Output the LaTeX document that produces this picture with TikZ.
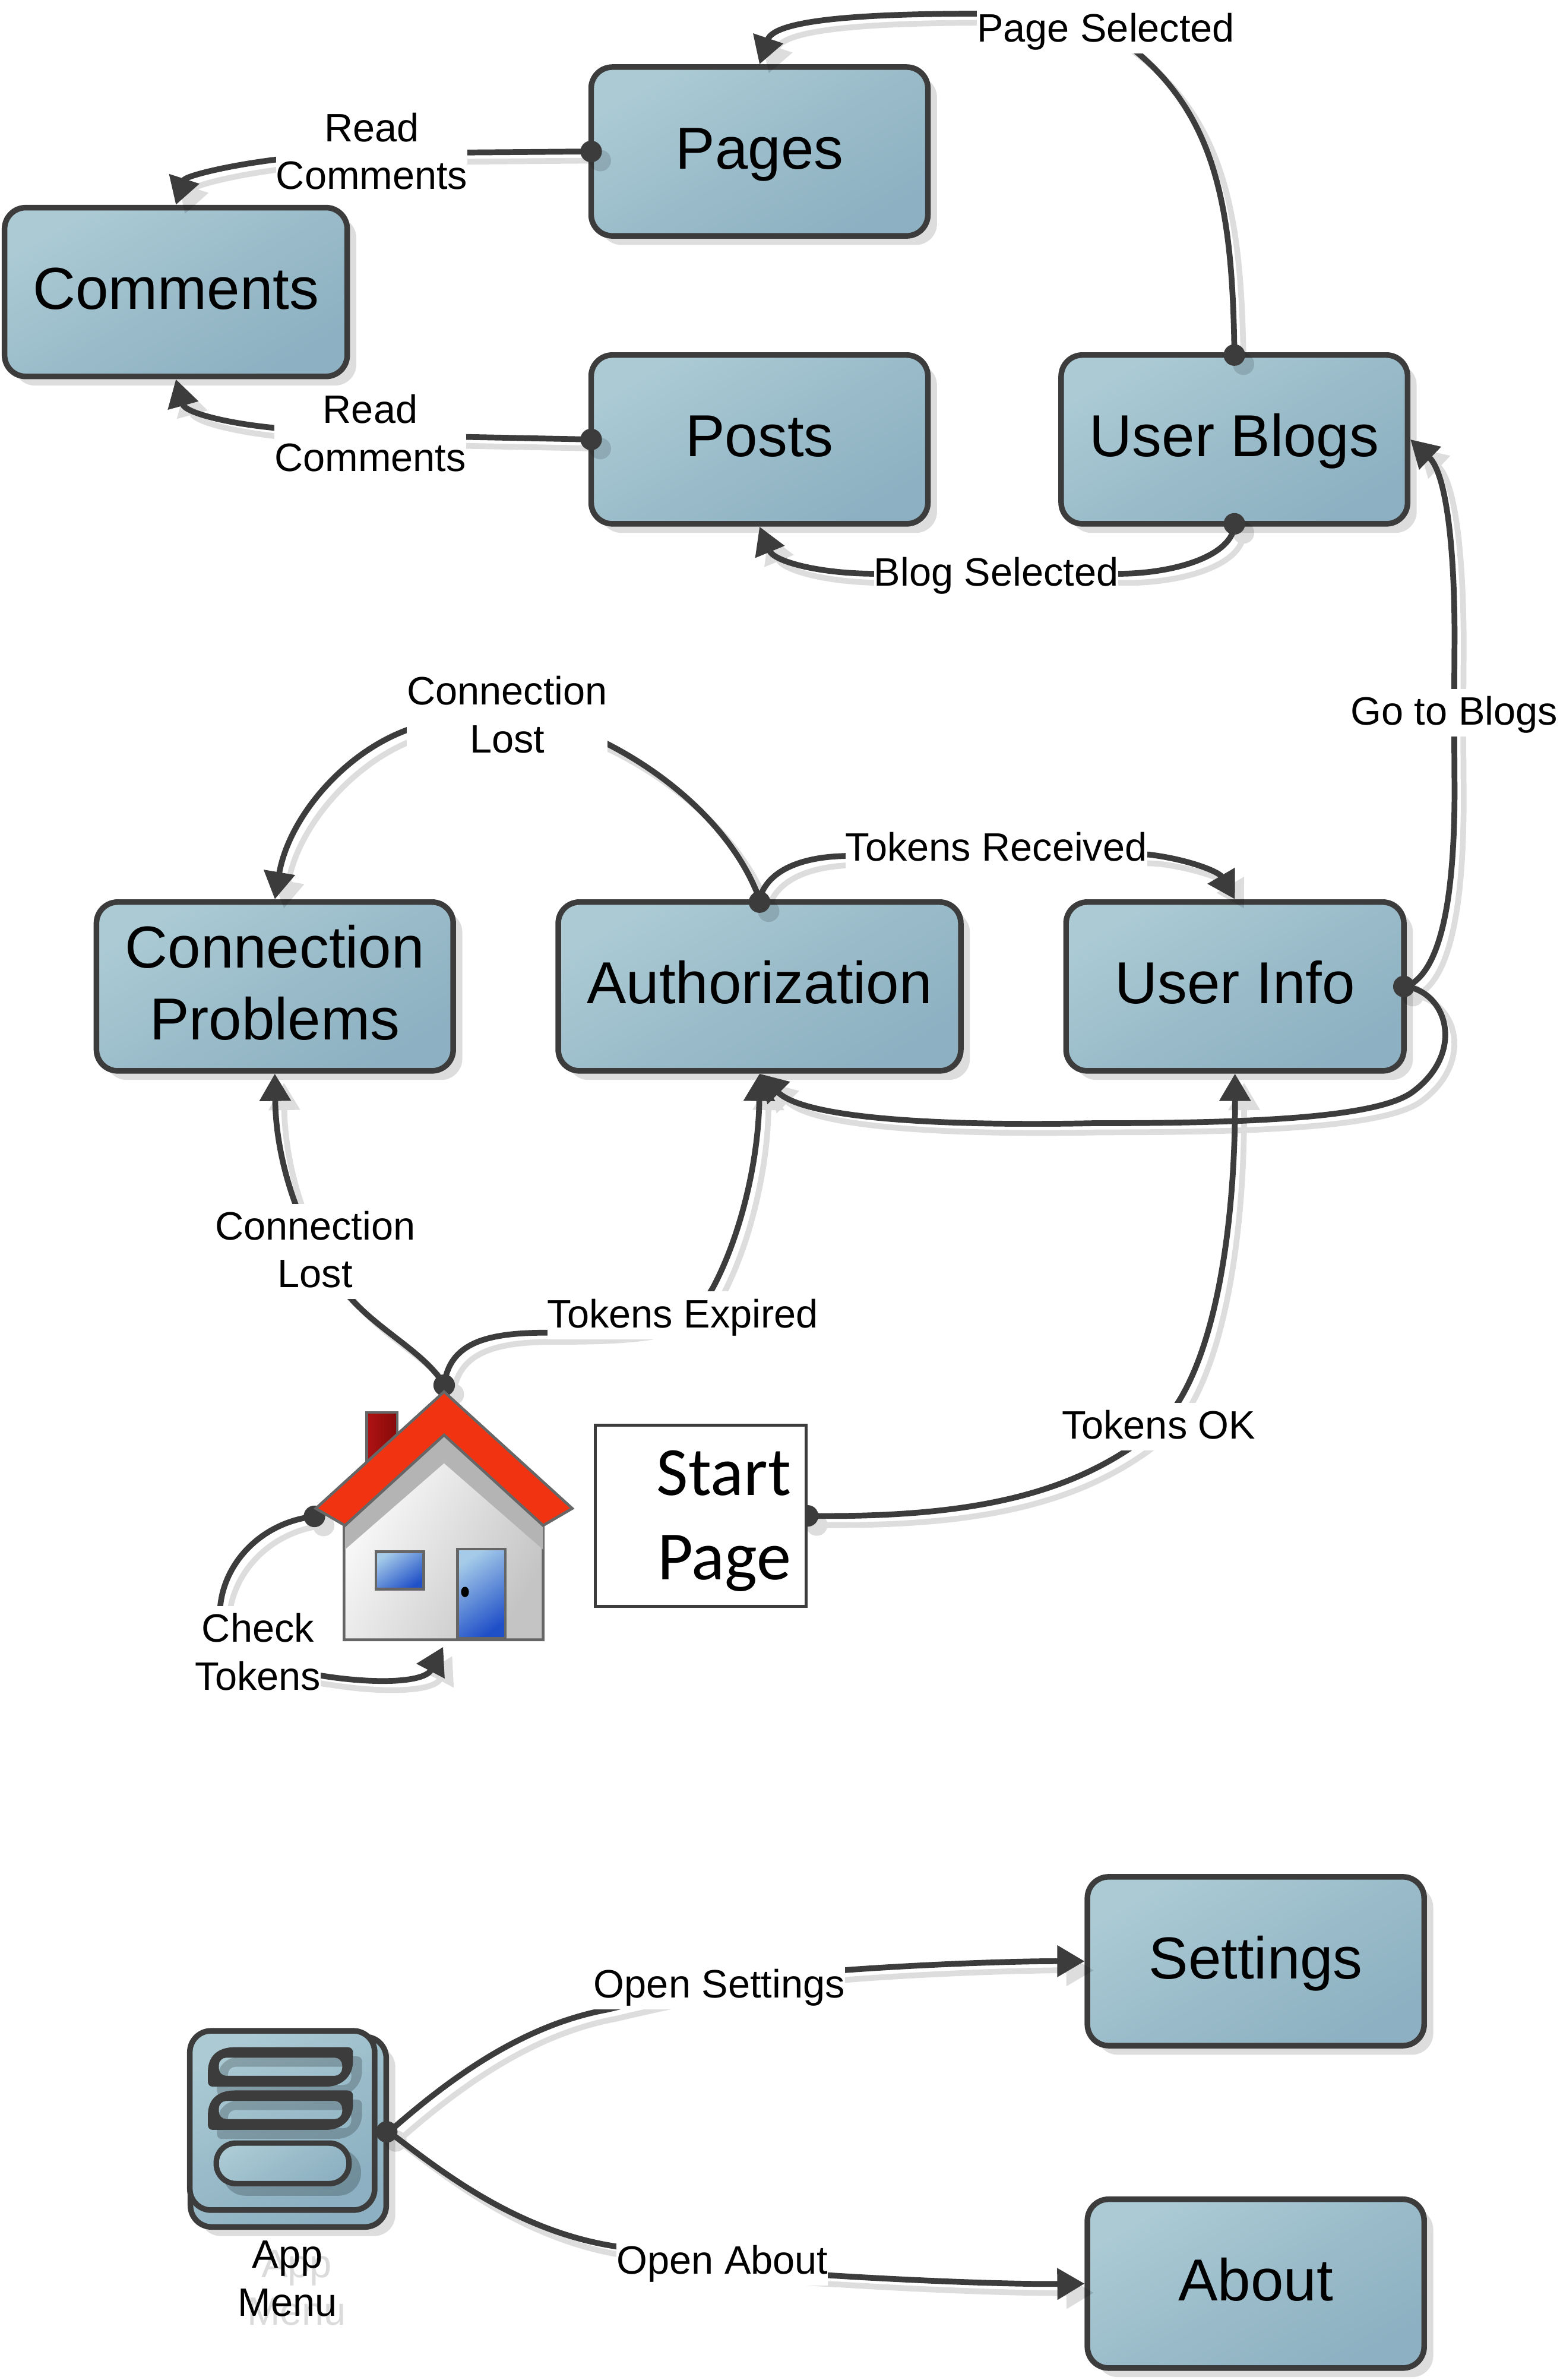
\documentclass[tikz,border=0pt]{standalone}
\usepackage{fontspec}
\setmainfont{Liberation Sans}
\newfontfamily\carl{Carlito}
\usetikzlibrary{arrows.meta,shadows,calc}
\pgfdeclarelayer{boxes}
\pgfdeclarelayer{links}
\pgfsetlayers{boxes,links,main}
\definecolor{ink}{HTML}{3C3C3C}
\definecolor{tealA}{HTML}{ABCAD4}
\definecolor{tealB}{HTML}{8DB1C2}
\definecolor{roofred}{HTML}{F23312}
\definecolor{outl}{HTML}{666666}
\definecolor{glassA}{HTML}{A5CBE9}
\definecolor{glassB}{HTML}{2050C8}
\definecolor{chimA}{HTML}{B01212}
\definecolor{chimB}{HTML}{860A0A}
\definecolor{wallA}{HTML}{FFFFFF}
\definecolor{wallB}{HTML}{C4C4C4}
\definecolor{band}{HTML}{B4B4B4}
\newcommand{\bst}{\rule[-12.1pt]{0pt}{47pt}}
\newcommand{\lst}{\rule[-7.6pt]{0pt}{31.4pt}}
\def\lc{ink}
\tikzset{
  teal/.style={top color=tealA,bottom color=tealB,middle color=tealB!55!tealA,shading angle=30},
  box/.style={draw=ink,line width=3.7pt,rounded corners=14pt,inner sep=0pt,align=center,teal,
     minimum height=111.2pt,
     font=\fontsize{39}{47}\selectfont,
     drop shadow={shadow xshift=6pt,shadow yshift=-6pt,fill=black,opacity=.135}},
  lbl/.style={fill=white,inner sep=0pt,align=center,font=\fontsize{26.1}{31.4}\selectfont},
  conn/.style={draw=\lc,line width=3.8pt},
  arr/.style={-{Triangle[length=18pt,width=20pt]}},
  housel/.style={draw=outl,line width=1.8pt,line join=miter},
  glass/.style={top color=glassA,bottom color=glassB,shading angle=35},
}
\newcommand{\dotat}[2]{\fill[\lc] ($(#1)+(#2)$) circle (7.1pt);}
\newcommand{\allconn}{%
  % Page Selected
  \draw[conn,arr] (ub.north) .. controls (812,130) and (800,65) .. (lPS.center) .. controls (695,9) and (670,9) .. (645,9) .. controls (560,9) and (510,14) .. (pages.north);
  \dotat{ub.north}{0,1.85}
  % Read Comments (Pages)
  \draw[conn,arr] (pages.west) -- (lRC.center) .. controls (215,101) and (200,103) .. (183,105) .. controls (150,109) and (122,116) .. (comments.north);
  \dotat{pages.west}{1.85,0}
  % Read Comments (Posts)
  \draw[conn,arr] (posts.west) -- (lRD.center) .. controls (215,286) and (200,284) .. (182,282) .. controls (150,279) and (122,272) .. (comments.south);
  \dotat{posts.west}{1.85,0}
  % Blog Selected
  \draw[conn,arr] (ub.south) .. controls (810,368) and (770,378) .. (737,378) -- (lBS.center) -- (577,378) .. controls (540,378) and (510,370) .. (posts.south);
  \dotat{ub.south}{0,-1.85}
  % Go to Blogs
  \draw[conn,arr] (ui.east) .. controls (950,640) and (958.5,590) .. (958.5,520) -- (lGB.center) -- (958.5,420) .. controls (958.5,360) and (953,312) .. (ub.east);
  % User Info to Authorization
  \draw[conn,arr] (ui.east) .. controls (955,655) and (965,695) .. (930,720) .. controls (905,737) and (820,740) .. (720,740) .. controls (620,742) and (530,737) .. (auth.south);
  \dotat{ui.east}{-1.85,0}
  % Connection Lost (top)
  \draw[conn,arr] (auth.north) .. controls (485,550) and (445,513) .. (400,490) .. controls (360,470) and (310,465) .. (268,481) .. controls (225,497) and (190,540) .. (cp.north);
  % Tokens Received
  \draw[conn,arr] (auth.north) .. controls (505,575) and (525,565) .. (555,564) -- (lTR.center) -- (757,563) .. controls (782,566) and (803,574) .. (ui.north);
  \dotat{auth.north}{0,1.85}
  % Connection Lost (bottom)
  \draw[conn,arr] (houseTop) .. controls (280,890) and (245,875) .. (225,848) .. controls (205,825) and (182,775) .. (cp.south);
  % Tokens Expired
  \draw[conn,arr] (houseTop) .. controls (296,885) and (320,878) .. (360,878) .. controls (420,878) and (455,875) .. (470,848) .. controls (490,810) and (500,760) .. (auth.south);
  \dotat{houseTop}{0,0}
  % Tokens OK
  \draw[conn,arr] (sp.east) .. controls (640,1000) and (710,985) .. (lTO.center) .. controls (800,905) and (814,810) .. (ui.south);
  \dotat{sp.east}{0,0}
  % Check Tokens
  \draw[conn,arr] (houseLeft) .. controls (172,1003) and (147,1030) .. (145,1060) .. controls (143,1085) and (180,1100) .. (212,1104) .. controls (250,1110) and (280,1108) .. (houseBottom);
  \dotat{houseLeft}{0,0}
  % Open Settings
  \draw[conn,arr] (mback.east) .. controls (290,1375) and (340,1335) .. (400,1324) .. controls (450,1312) and (500,1303) .. (556,1298) .. controls (610,1294) and (670,1292) .. (st.west);
  % Open About
  \draw[conn,arr] (mback.east) .. controls (290,1430) and (340,1470) .. (406,1480) .. controls (450,1492) and (500,1497) .. (546,1499) .. controls (610,1503) and (670,1505) .. (ab.west);
  \dotat{mback.east}{-1.5,0}
}
\newcommand{\menubar}{%
  (155,1348.7) -- (229,1348.7) .. controls (231.5,1348.7) and (232.6,1350.5) .. (232.6,1352) -- (232.6,1358)
  .. controls (232.6,1368) and (225,1374.7) .. (215,1374.7) -- (140,1374.7) .. controls (138,1374.7) and (137,1373) .. (137,1371.5)
  -- (137,1365) .. controls (137,1355) and (143,1348.7) .. (155,1348.7) -- cycle
  [rounded corners=5pt] (144.2,1355.6) rectangle (225.5,1367.6)}
\begin{document}
\begin{tikzpicture}[x=1pt,y=-1pt]
\useasboundingbox (0,0) rectangle (1027.6,1568);
% ---- boxes
\begin{pgfonlayer}{boxes}
\node[box,minimum width=221.9pt] (pages) at (500.5,99.8) {\bst Pages};
\node[box,minimum width=221.9pt] (posts) at (500.5,289.5) {\bst Posts};
\node[box,minimum width=225.8pt] (comments) at (115.9,192.4) {\bst Comments};
\node[box,minimum width=228.3pt] (ub) at (813.4,289.5) {\bst User Blogs};
\node[box,minimum width=235.1pt] (cp) at (181.1,649.9) {\bst Connection\\\bst Problems};
\node[box,minimum width=265.3pt] (auth) at (500.5,649.9) {\bst Authorization};
\node[box,minimum width=222.6pt] (ui) at (813.8,649.9) {\bst User Info};
\node[box,minimum width=221.9pt] (st) at (827.5,1292.1) {\bst Settings};
\node[box,minimum width=221.9pt] (ab) at (827.5,1504.5) {\bst About};
% app menu icon
\node[box,minimum width=129pt,minimum height=125.3pt] (mback) at (190,1404.5) {};
\node[draw=ink,line width=3.7pt,rounded corners=14pt,inner sep=0pt,teal,minimum width=121.8pt,minimum height=118.1pt] (mfront) at (186,1397) {};
\begin{scope}[shift={(6,6)}]
  \fill[black,opacity=.2,even odd rule] \menubar;
  \begin{scope}[shift={(0,28.5)}]\fill[black,opacity=.2,even odd rule] \menubar;\end{scope}
  \fill[black,opacity=.2,rounded corners=15pt] (140.7,1409.9) rectangle (231.9,1440.6);
\end{scope}
\fill[ink,even odd rule] \menubar;
\begin{scope}[shift={(0,28.5)}]\fill[ink,even odd rule] \menubar;\end{scope}
\draw[draw=ink,line width=3.6pt,rounded corners=13pt,teal] (142.5,1411.9) rectangle (230,1438.6);
\end{pgfonlayer}
% ---- labels
\node[lbl] (lPS) at (728.7,19.5) {\lst Page Selected};
\node[lbl] (lRC) at (245,101) {\lst Read\\\lst Comments};
\node[lbl] (lRD) at (244,286.6) {\lst Read\\\lst Comments};
\node[lbl] (lBS) at (656.5,378) {\lst Blog Selected};
\node[lbl] (lGB) at (958.2,469.5) {\lst Go to Blogs};
\node[lbl] (lCA) at (334.2,472) {\lst Connection\\\lst Lost};
\node[lbl] (lTR) at (656.5,559) {\lst Tokens Received};
\node[lbl] (lCB) at (207.7,824.5) {\lst Connection\\\lst Lost};
\node[lbl] (lTE) at (450,866.6) {\lst Tokens Expired};
\node[lbl] (lTO) at (763.5,940) {\lst Tokens OK};
\node[lbl] (lCT) at (170,1089.5) {\lst Check\\\lst Tokens};
\node[lbl] (lOS) at (474,1308) {\lst Open Settings};
\node[lbl] (lOA) at (476,1490) {\lst Open About};
\node[lbl,fill=none,text=black!14] (lAMs) at (195.5,1508) {\lst App\\\lst Menu};
\node[lbl,fill=none] (lAM) at (189.5,1502) {\lst App\\\lst Menu};
% ---- start page box
\node[draw=ink,line width=2pt,fill=white,inner sep=10pt,text width=119pt,minimum height=115.5pt,align=right,font=\carl\fontsize{45.5}{55.5}\selectfont] (sp) at (461.7,998.7) {\rule{0pt}{36pt}Start\\Page};
% ---- house
\coordinate (houseTop) at (292.7,912.6);
\coordinate (houseLeft) at (207.2,999);
\coordinate (houseBottom) at (292,1085);
\shade[housel,left color=chimA,right color=chimB] (241.7,930.5) rectangle (261.8,972);
\draw[housel,top color=wallA,bottom color=wallB,shading angle=60] (226.7,1000) -- (226.7,1080.3) -- (357.9,1080.3) -- (357.9,1000) -- (292.6,940) -- cycle;
\fill[band] (292.6,945.4) -- (227.3,1005) -- (227.3,1020.9) -- (292.6,964) -- (357.9,1020.9) -- (357.9,1005) -- cycle;
\draw[housel,fill=roofred] (292.6,916.9) -- (377.1,993.8) -- (357.9,1005) -- (292.6,945.4) -- (227.3,1005) -- (208.1,993.8) -- cycle;
\draw[housel,glass] (247.7,1022.2) rectangle (279.1,1047);
\draw[housel,glass] (301.6,1020.5) rectangle (333,1079.4);
\fill[black] (306.4,1048.8) ellipse (2.6pt and 3.4pt);
% ---- connectors
\begin{pgfonlayer}{links}
\begin{scope}[transform canvas={shift={(6pt,-6pt)}}]
\begin{scope}[transparency group,opacity=.135]
  \path (0,0) rectangle (1027.6,1568);
  \def\lc{black}
  \allconn
\end{scope}
\end{scope}
\allconn
\end{pgfonlayer}
\end{tikzpicture}
\end{document}
